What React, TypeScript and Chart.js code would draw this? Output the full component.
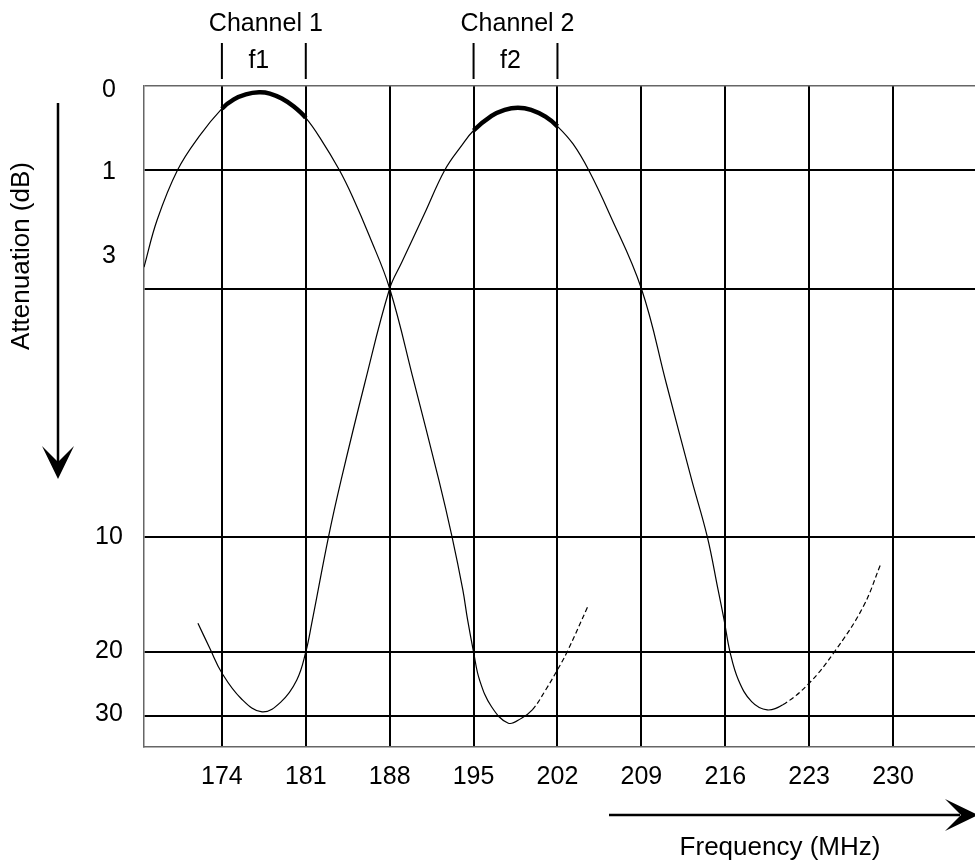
import React, { useEffect, useRef } from 'react';
import { Chart, LinearScale, registerables } from 'chart.js';

// ---------- data ----------
const X_TICKS = [174, 181, 188, 195, 202, 209, 216, 223, 230];
const X_TICK_LABELS = ['174', '181', '188', '195', '202', '209', '216', '223', '230'];
const X_MIN = 167.5;
const X_MAX = 236.84;

const Y_TICKS = [0, 1, 3, 10, 20, 30];
const Y_TICK_LABELS = ['0', '1', '3', '10', '20', '30'];

const CH1_FREQ = [167.5, 168.6, 170.3, 172.1, 174.0, 175.0, 176.0, 177.1, 178.0, 179.0, 180.0, 181.0, 182.2, 183.8, 184.9, 186.3, 188.0, 190.0, 192.1, 193.2, 194.1, 194.5, 195.0, 195.5, 196.5, 197.9, 199.0, 199.9, 201.0, 202.0, 202.8, 204.6];
const CH1_ATTEN = [2.64, 1.84, 1.0, 0.6, 0.27, 0.16, 0.1, 0.075, 0.09, 0.15, 0.245, 0.38, 0.62, 1.0, 1.45, 2.11, 3.0, 5.6, 8.4, 10.0, 14.6, 17.2, 20.0, 24.4, 28.6, 31.2, 30.4, 29.1, 26.0, 22.8, 20.0, 15.9];

const CH2_FREQ = [172.0, 173.0, 174.0, 175.6, 177.35, 178.95, 180.25, 181.0, 181.5, 182.9, 183.95, 185.9, 188.0, 189.0, 190.9, 192.6, 194.0, 195.0, 196.5, 197.6, 198.7, 199.8, 201.0, 202.0, 203.3, 204.6, 206.3, 209.0, 211.1, 213.2, 214.5, 215.4, 215.9, 216.4, 217.1, 218.2, 219.5, 220.8, 223.0, 225.1, 227.5, 229.0];
const CH2_ATTEN = [17.5, 19.7, 23.3, 27.3, 29.4, 27.8, 24.4, 20.0, 17.5, 10.0, 8.4, 5.7, 3.0, 2.56, 1.74, 1.0, 0.71, 0.53, 0.356, 0.283, 0.258, 0.283, 0.365, 0.48, 0.69, 1.0, 1.72, 3.0, 5.7, 8.4, 10.0, 14.6, 17.2, 20.0, 24.4, 27.8, 29.1, 28.3, 24.9, 20.0, 16.1, 12.3];

const CHANNEL_NAMES = ['Channel 1', 'Channel 2'];
const CHANNEL_MARKS = ['f1', 'f2'];
const CHANNEL_LOW = [174, 195];
const CHANNEL_HIGH = [181, 202];
const TAIL_START = [199.9, 220.8];

const Y_TITLE = 'Attenuation (dB)';
const X_TITLE = 'Frequency (MHz)';

// ---------- non-uniform attenuation axis ----------
const Y_BREAK_VALUES = [0, 1, 3, 10, 20, 30, 35];
const Y_BREAK_FRACTIONS = [0, 0.1271, 0.3064, 0.6818, 0.8563, 0.9526, 1];

function valueToFraction(v: number): number {
  const vs = Y_BREAK_VALUES, fs = Y_BREAK_FRACTIONS;
  if (v <= vs[0]) return fs[0] + (v - vs[0]) * (fs[1] - fs[0]) / (vs[1] - vs[0]);
  for (let i = 1; i < vs.length; i++) {
    if (v <= vs[i]) return fs[i - 1] + (v - vs[i - 1]) * (fs[i] - fs[i - 1]) / (vs[i] - vs[i - 1]);
  }
  const n = vs.length - 1;
  return fs[n] + (v - vs[n]) * (fs[n] - fs[n - 1]) / (vs[n] - vs[n - 1]);
}
function fractionToValue(f: number): number {
  const vs = Y_BREAK_VALUES, fs = Y_BREAK_FRACTIONS;
  for (let i = 1; i < fs.length; i++) {
    if (f <= fs[i]) return vs[i - 1] + (f - fs[i - 1]) * (vs[i] - vs[i - 1]) / (fs[i] - fs[i - 1]);
  }
  return vs[vs.length - 1];
}

class PiecewiseScale extends LinearScale {
  static id = 'piecewise';
  getPixelForValue(value: number) {
    if (value === null || value === undefined || isNaN(value)) return NaN;
    return this.top + valueToFraction(value) * (this.bottom - this.top);
  }
  getValueForPixel(pixel: number) {
    return fractionToValue((pixel - this.top) / (this.bottom - this.top));
  }
}

Chart.register(...registerables, PiecewiseScale as any);

const FONT = '"Liberation Sans", Arial, Helvetica, sans-serif';
const Y_LABEL_NUDGE = [4, 2, -32, 0, -1, -2];

function arrowHead(ctx: CanvasRenderingContext2D, tipX: number, tipY: number, dirX: number, dirY: number) {
  const len = 33, half = 16, notch = 17;
  const px = -dirY, py = dirX;
  ctx.beginPath();
  ctx.moveTo(tipX, tipY);
  ctx.lineTo(tipX - dirX * len + px * half, tipY - dirY * len + py * half);
  ctx.lineTo(tipX - dirX * notch, tipY - dirY * notch);
  ctx.lineTo(tipX - dirX * len - px * half, tipY - dirY * len - py * half);
  ctx.closePath();
  ctx.fill();
}

const decorPlugin = {
  id: 'decor',
  afterDraw(chart: any) {
    const { ctx } = chart;
    const x = chart.scales.x;
    const y = chart.scales.y;
    ctx.save();
    ctx.fillStyle = '#000';
    ctx.strokeStyle = '#000';
    ctx.font = `25px ${FONT}`;
    ctx.textAlign = 'center';
    ctx.textBaseline = 'middle';

    // y tick labels
    Y_TICKS.forEach((v, i) => {
      ctx.fillText(Y_TICK_LABELS[i], 109, y.getPixelForValue(v) + (Y_LABEL_NUDGE[i] || 0));
    });

    // channel band markers
    CHANNEL_NAMES.forEach((name, i) => {
      const x0 = x.getPixelForValue(CHANNEL_LOW[i]);
      const x1 = x.getPixelForValue(CHANNEL_HIGH[i]);
      ctx.lineWidth = 2;
      ctx.beginPath();
      ctx.moveTo(x0, 43); ctx.lineTo(x0, 79);
      ctx.moveTo(x1, 43); ctx.lineTo(x1, 79);
      ctx.stroke();
      ctx.fillText(name, (x0 + x1) / 2 + 2, 24);
      ctx.fillText(CHANNEL_MARKS[i], (x0 + x1) / 2 - 5, 61);
    });

    // y title
    ctx.save();
    ctx.font = `26px ${FONT}`;
    ctx.translate(22, 256);
    ctx.rotate(-Math.PI / 2);
    ctx.fillText(Y_TITLE, 0, 0);
    ctx.restore();

    // vertical arrow
    ctx.lineWidth = 2.5;
    ctx.beginPath();
    ctx.moveTo(58, 103); ctx.lineTo(58, 465);
    ctx.stroke();
    arrowHead(ctx, 58, 479, 0, 1);

    // horizontal arrow
    ctx.beginPath();
    ctx.moveTo(609, 815); ctx.lineTo(960, 815);
    ctx.stroke();
    arrowHead(ctx, 978, 815, 1, 0);

    // x title
    ctx.font = `26px ${FONT}`;
    ctx.fillText(X_TITLE, 780, 848);
    ctx.restore();
  },
};

function makeDataset(freq: number[], atten: number[], lo: number, hi: number, tail: number) {
  return {
    data: freq.map((f, i) => ({ x: f, y: atten[i] })),
    borderColor: '#000',
    borderWidth: 1.2,
    pointRadius: 0,
    fill: false,
    tension: 0.4,
    segment: {
      borderWidth: (c: any) => {
        const a = freq[c.p0DataIndex], b = freq[c.p1DataIndex];
        return a >= lo - 0.01 && b <= hi + 0.01 ? 4.5 : undefined;
      },
      borderDash: (c: any) => (freq[c.p0DataIndex] >= tail - 0.01 ? [5, 3] : undefined),
    },
  };
}

export default function App() {
  const ref = useRef<HTMLCanvasElement | null>(null);
  useEffect(() => {
    if (!ref.current) return;
    const chart = new Chart(ref.current, {
      type: 'line',
      data: {
        datasets: [
          makeDataset(CH1_FREQ, CH1_ATTEN, CHANNEL_LOW[0], CHANNEL_HIGH[0], TAIL_START[0]),
          makeDataset(CH2_FREQ, CH2_ATTEN, CHANNEL_LOW[1], CHANNEL_HIGH[1], TAIL_START[1]),
        ] as any,
      },
      options: {
        animation: false,
        responsive: false,
        devicePixelRatio: 1,
        events: [],
        layout: { padding: { top: 86, left: 0, right: 0, bottom: 0 } },
        plugins: { legend: { display: false }, tooltip: { enabled: false } },
        scales: {
          x: {
            type: 'linear',
            min: X_MIN,
            max: X_MAX,
            afterBuildTicks: (s: any) => { s.ticks = X_TICKS.map((v) => ({ value: v })); },
            afterFit: (s: any) => { s.height = 118; },
            grid: { color: '#000', lineWidth: 2, drawTicks: false },
            border: { color: '#666', width: 1.5 },
            ticks: {
              color: '#000',
              font: { size: 25, family: FONT },
              padding: 15,
              maxRotation: 0,
              autoSkip: false,
              callback: (_v: any, i: number) => X_TICK_LABELS[i],
            },
          },
          y: {
            type: 'piecewise' as any,
            min: 0,
            max: 35,
            afterBuildTicks: (s: any) => { s.ticks = Y_TICKS.map((v) => ({ value: v })); },
            afterFit: (s: any) => { s.width = 144; },
            grid: {
              color: (c: any) => (c.tick && c.tick.value === 0 ? '#666' : '#000'),
              lineWidth: (c: any) => (c.tick && c.tick.value === 0 ? 1.5 : 2),
              drawTicks: false,
            },
            border: { color: '#666', width: 1.5 },
            ticks: { display: false },
          },
        },
      } as any,
      plugins: [decorPlugin],
    });
    return () => chart.destroy();
  }, []);
  return (
    <div style={{ position: 'absolute', left: 0, top: 0, width: 975, height: 865, background: '#fff' }}>
      <canvas ref={ref} width={975} height={865} style={{ display: 'block' }} />
    </div>
  );
}
